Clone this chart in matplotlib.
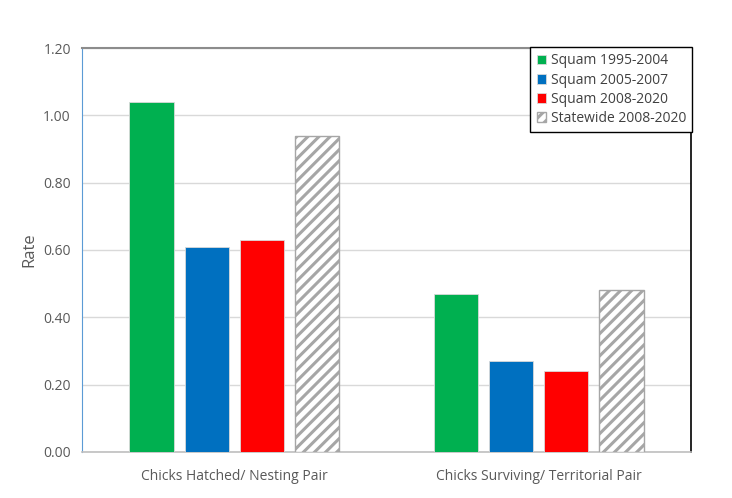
import numpy as np
import matplotlib
matplotlib.use("Agg")
import matplotlib.pyplot as plt

plt.rcParams['font.family'] = ['Open Sans', 'DejaVu Sans']
plt.rcParams['hatch.linewidth'] = 2.2
plt.rcParams['hatch.color'] = '#808080'

categories = ["Chicks Hatched/ Nesting Pair", "Chicks Surviving/ Territorial Pair"]
series_names = ["Squam 1995-2004", "Squam 2005-2007", "Squam 2008-2020", "Statewide 2008-2020"]
squam_1995_2004 = [1.04, 0.47]
squam_2005_2007 = [0.61, 0.27]
squam_2008_2020 = [0.63, 0.24]
statewide_2008_2020 = [0.94, 0.48]
yticks = [0.0, 0.2, 0.4, 0.6, 0.8, 1.0, 1.2]

series = [squam_1995_2004, squam_2005_2007, squam_2008_2020, statewide_2008_2020]
colors = ['#00B050', '#0070C0', '#FF0000', 'white']

fig = plt.figure(figsize=(7.32, 4.98), dpi=100)
ax = fig.add_axes([0.112, 0.0924, 0.832, 0.8112])

x = np.arange(len(categories))
width = 0.145
step = 0.181
for i, (vals, name, col) in enumerate(zip(series, series_names, colors)):
    pos = x + (i - 1.5) * step
    if i == 3:
        ax.bar(pos, vals, width, color='white', edgecolor='#A6A6A6', hatch='///',
               linewidth=1.0, label=name, zorder=3)
    else:
        ax.bar(pos, vals, width, color=col, edgecolor='#D9D9D9', linewidth=0.6,
               label=name, zorder=3)

ax.set_xlim(-0.5, 1.5)
ax.set_ylim(0, 1.2)
ax.set_yticks(yticks)
ax.set_yticklabels(["%.2f" % v for v in yticks], fontsize=10, color='#595959')
ax.set_xticks(x)
ax.set_xticklabels(categories, fontsize=10, color='#595959')
ax.tick_params(axis='both', length=0, pad=8)
ax.tick_params(axis='x', pad=12)
ax.yaxis.grid(True, color='#D9D9D9', linewidth=1, zorder=0)
ax.set_axisbelow(True)

ax.spines['left'].set_color('#5B9BD5')
ax.spines['top'].set_color('#8C8C8C')
ax.spines['top'].set_linewidth(1.5)
ax.spines['right'].set_color('black')
ax.spines['right'].set_linewidth(1.2)
ax.spines['bottom'].set_color('#BFBFBF')
ax.spines['bottom'].set_linewidth(1.2)

ax.set_ylabel("Rate", fontsize=12, color='#595959', labelpad=4)

leg = ax.legend(loc='upper right', bbox_to_anchor=(1.002, 1.002), fontsize=10,
                handlelength=0.7, handleheight=0.7, handletextpad=0.3,
                labelspacing=0.3, borderpad=0.45, borderaxespad=0,
                fancybox=False, framealpha=1, edgecolor='black')
leg.get_frame().set_linewidth(1.0)
for t in leg.get_texts():
    t.set_color('#404040')

fig.savefig("out.png", dpi=100)
